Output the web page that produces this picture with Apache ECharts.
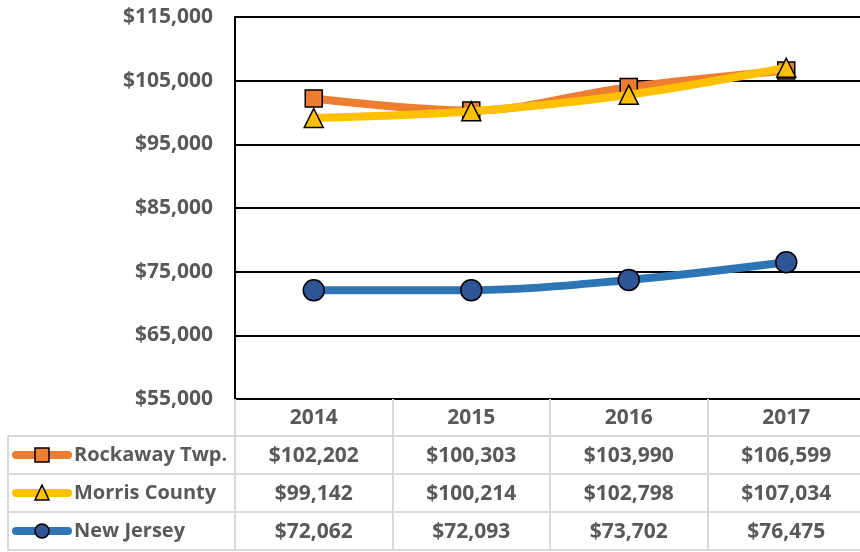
<!DOCTYPE html>
<html>
<head>
<meta charset="utf-8">
<title>Median household income</title>
<script src="https://cdn.jsdelivr.net/npm/echarts@6/dist/echarts.min.js"></script>
<style>
  html, body { margin: 0; padding: 0; background: #fff; }
  #chart { width: 860px; height: 552px; }
</style>
</head>
<body>
<div id="chart"></div>
<script>
const YEARS = ['2014', '2015', '2016', '2017']
const SERIES_NAMES = ['Rockaway Twp.', 'Morris County', 'New Jersey']
const ROCKAWAY = [102202, 100303, 103990, 106599]
const MORRIS = [99142, 100214, 102798, 107034]
const NEW_JERSEY = [72062, 72093, 73702, 76475]
const Y_MIN = 55000
const Y_MAX = 115000
const Y_STEP = 10000

const TEXT = '#595959'
const FONT = '"Open Sans"'
const BORDER = '#d9d9d9'
const ROW_H = 38

const money = (v) => '$' + Number(v).toLocaleString('en-US')

const styles = [
  { color: '#ED7D31', fill: '#ED7D31', symbol: 'rect', size: 17 },
  { color: '#FFC000', fill: '#FFC000', symbol: 'triangle', size: [19, 19] },
  { color: '#2E75B6', fill: '#2F5597', symbol: 'circle', size: 21 },
]
const values = [ROCKAWAY, MORRIS, NEW_JERSEY]

const chart = echarts.init(document.getElementById('chart'))

const labelBase = { color: TEXT, fontFamily: FONT, fontWeight: 'bold', fontSize: 21 }

// one extra category axis per table row, pushed down by offset
const rowAxes = values.map((arr, i) => ({
  type: 'category',
  gridIndex: 0,
  position: 'bottom',
  offset: ROW_H * (i + 1),
  data: arr.map(money),
  axisLine: { show: false },
  axisTick: { show: false },
  axisLabel: { ...labelBase, margin: 9, interval: 0 },
}))

// legend column on the left of the table
const legendGraphics = []
SERIES_NAMES.forEach((name, i) => {
  const cy = 399 + ROW_H * (i + 1) + 18
  const s = styles[i]
  legendGraphics.push({
    type: 'line',
    shape: { x1: 16, y1: cy, x2: 68, y2: cy },
    style: { stroke: s.color, lineWidth: 8, lineCap: 'round' },
  })
  let marker
  if (s.symbol === 'rect') {
    marker = { type: 'rect', shape: { x: 35, y: cy - 7, width: 14, height: 14 } }
  } else if (s.symbol === 'triangle') {
    marker = { type: 'polygon', shape: { points: [[42, cy - 8], [49, cy + 7], [35, cy + 7]] } }
  } else {
    marker = { type: 'circle', shape: { cx: 42, cy: cy, r: 7 } }
  }
  marker.style = { fill: s.fill, stroke: '#000', lineWidth: 1.5 }
  legendGraphics.push(marker)
  legendGraphics.push({
    type: 'text',
    x: 74, y: cy,
    style: { text: name, fill: TEXT, font: 'bold 20px ' + FONT, verticalAlign: 'middle' },
  })
})

// table borders
const tableLines = []
for (let r = 1; r <= 4; r++) {
  const y = 399 + ROW_H * r - 1
  tableLines.push({ type: 'line', shape: { x1: 8, y1: y, x2: 860, y2: y }, style: { stroke: BORDER, lineWidth: 2 } })
}
tableLines.push({ type: 'line', shape: { x1: 8, y1: 436, x2: 8, y2: 551 }, style: { stroke: BORDER, lineWidth: 2 } })

chart.setOption({
  animation: false,
  backgroundColor: '#fff',
  grid: { left: 235, top: 17, width: 630, height: 382, containLabel: false, outerBoundsMode: 'none' },
  xAxis: [
    {
      type: 'category',
      data: YEARS,
      boundaryGap: true,
      axisLine: { show: false },
      axisTick: {
        show: true, interval: 0, length: ROW_H * 4,
        lineStyle: { color: BORDER, width: 2 },
      },
      axisLabel: { ...labelBase, margin: 9, interval: 0 },
    },
    ...rowAxes,
  ],
  yAxis: {
    type: 'value',
    min: Y_MIN,
    max: Y_MAX,
    interval: Y_STEP,
    axisLine: { show: true, lineStyle: { color: '#000', width: 2 } },
    axisTick: { show: false },
    axisLabel: { ...labelBase, margin: 22, formatter: money },
    splitLine: { lineStyle: { color: '#000', width: 2 } },
  },
  series: values.map((arr, i) => ({
    name: SERIES_NAMES[i],
    type: 'line',
    data: arr,
    smooth: 0.35,
    symbol: styles[i].symbol,
    symbolSize: styles[i].size,
    showAllSymbol: true,
    lineStyle: { color: styles[i].color, width: 8 },
    itemStyle: { color: styles[i].fill, borderColor: '#000', borderWidth: 1.5 },
    z: 3 + i,
  })),
  graphic: [...tableLines, ...legendGraphics],
})
</script>
</body>
</html>
